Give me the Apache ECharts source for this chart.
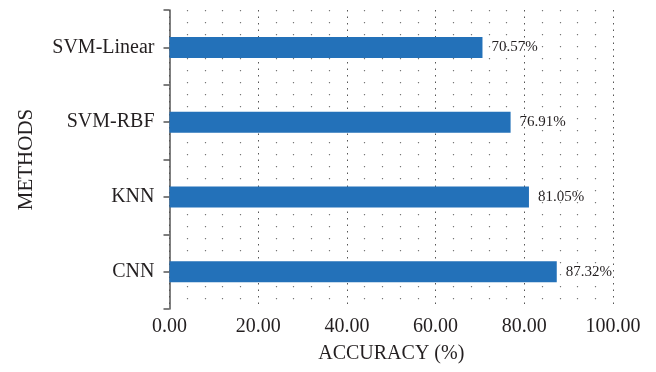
<!DOCTYPE html>
<html>
<head>
<meta charset="utf-8">
<script src="https://cdn.jsdelivr.net/npm/echarts@6/dist/echarts.min.js"></script>
<style>
  html, body { margin: 0; padding: 0; background: #fff; }
  #chart { width: 656px; height: 372px; }
</style>
</head>
<body>
<div id="chart"></div>
<script>
// Classification accuracy of each method
const methods = ['CNN', 'KNN', 'SVM-RBF', 'SVM-Linear'];
const accuracy = [87.32, 81.05, 76.91, 70.57];
const xTicks = [0, 20, 40, 60, 80, 100];

const serif = '"Liberation Serif", "DejaVu Serif", serif';
const textColor = '#231f20';

const chart = echarts.init(document.getElementById('chart'), null, { renderer: 'canvas' });

chart.setOption({
  animation: false,
  backgroundColor: '#ffffff',
  grid: { left: 169.5, right: 43, top: 10, bottom: 63, containLabel: false },
  xAxis: {
    type: 'value',
    min: xTicks[0],
    max: xTicks[xTicks.length - 1],
    interval: xTicks[1] - xTicks[0],
    name: 'ACCURACY (%)',
    nameLocation: 'middle',
    nameGap: 35,
    nameTextStyle: { fontFamily: serif, fontSize: 20, color: textColor },
    axisLine: { show: false },
    axisTick: { show: false },
    axisLabel: {
      margin: 8,
      fontFamily: serif,
      fontSize: 20,
      color: textColor,
      formatter: v => v.toFixed(2)
    },
    splitLine: {
      show: true,
      lineStyle: { color: '#555', width: 1, type: [1.5, 5] }
    },
    minorTick: { show: false, splitNumber: 5 },
    minorSplitLine: {
      show: true,
      lineStyle: { color: '#777', width: 1.2, type: [1.2, 10.8] }
    }
  },
  yAxis: [
    {
      type: 'category',
      data: methods,
      name: 'METHODS',
      nameLocation: 'middle',
      nameGap: 133,
      nameRotate: 90,
      nameTextStyle: { fontFamily: serif, fontSize: 21, color: textColor },
      axisLine: { show: false },
      axisTick: { show: false },
      axisLabel: { margin: 15, fontFamily: serif, fontSize: 20, color: textColor },
      splitLine: { show: false }
    },
    {
      // tick marks at every half category, drawn along the left axis line
      type: 'value',
      position: 'left',
      min: 0,
      max: methods.length * 2,
      interval: 1,
      axisLine: { show: true, lineStyle: { color: '#555', width: 1.5 } },
      axisTick: { show: true, inside: false, length: 6, lineStyle: { color: '#555', width: 1.5 } },
      axisLabel: { show: false },
      splitLine: { show: false }
    }
  ],
  series: [
    {
      type: 'bar',
      yAxisIndex: 0,
      data: accuracy,
      barWidth: 21,
      itemStyle: { color: '#2371b9' },
      label: {
        show: true,
        position: 'right',
        distance: 9,
        fontFamily: serif,
        fontSize: 15,
        color: textColor,
        formatter: p => p.value.toFixed(2) + '%'
      }
    }
  ]
});
</script>
</body>
</html>
